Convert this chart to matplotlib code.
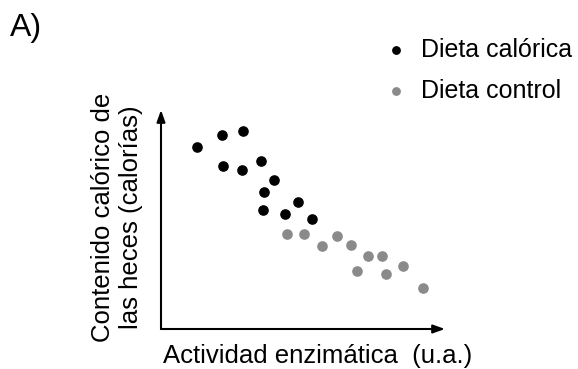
import matplotlib
matplotlib.use("Agg")
import matplotlib.pyplot as plt

plt.rcParams['font.family'] = ['Liberation Sans', 'DejaVu Sans']

# valors llegits de la figura (unitats arbitràries)
x_calorica = [1.26, 2.16, 2.88, 2.18, 2.86, 3.53, 3.99, 3.62, 3.60, 4.81, 4.36, 5.33]
y_calorica = [8.30, 8.87, 9.04, 7.46, 7.27, 7.67, 6.80, 6.27, 5.43, 5.81, 5.25, 5.01]
x_control = [4.45, 5.04, 5.66, 6.19, 6.70, 7.30, 7.78, 6.89, 7.92, 8.51, 9.24]
y_control = [4.35, 4.35, 3.78, 4.23, 3.82, 3.35, 3.35, 2.63, 2.50, 2.89, 1.86]
etiquetes = ["Dieta calórica", "Dieta control"]

fig = plt.figure(figsize=(5.78, 3.69), dpi=100)
ax = fig.add_axes([161/578, 40/369, 284/578, 219/369])

ax.scatter(x_calorica, y_calorica, s=44, color="black", label=etiquetes[0], zorder=3)
ax.scatter(x_control, y_control, s=44, color="#8a8a8a", label=etiquetes[1], zorder=3)
ax.set_xlim(0, 10)
ax.set_ylim(0, 10)

# eixos amb fletxa
for s in ax.spines.values():
    s.set_visible(False)
ax.set_xticks([])
ax.set_yticks([])
ax.annotate("", xy=(1, 0), xytext=(0, 0), xycoords="axes fraction",
            arrowprops=dict(arrowstyle="-|>,head_length=0.7,head_width=0.25", color="black", lw=1.5, shrinkA=0, shrinkB=0))
ax.annotate("", xy=(0, 1), xytext=(0, 0), xycoords="axes fraction",
            arrowprops=dict(arrowstyle="-|>,head_length=0.7,head_width=0.25", color="black", lw=1.5, shrinkA=0, shrinkB=0))

fig.text(163/578, 1 - 356/369, "Actividad enzimática  (u.a.)", fontsize=18.5, va="center", ha="left")
fig.text(117/578, 1 - 217/369, "Contenido calórico de\nlas heces (calorías)", fontsize=18.5,
         rotation=90, va="center", ha="center", linespacing=1.22)
fig.text(10/578, 1 - 28/369, "A)", fontsize=23, va="center", ha="left")

fig.legend(loc="upper left", bbox_to_anchor=(371/578, 1 - 28/369), frameon=False,
           fontsize=18, handletextpad=0.4, labelspacing=0.68, borderaxespad=0,
           markerscale=0.8, handlelength=1.2)

fig.savefig("out.png", dpi=100)
